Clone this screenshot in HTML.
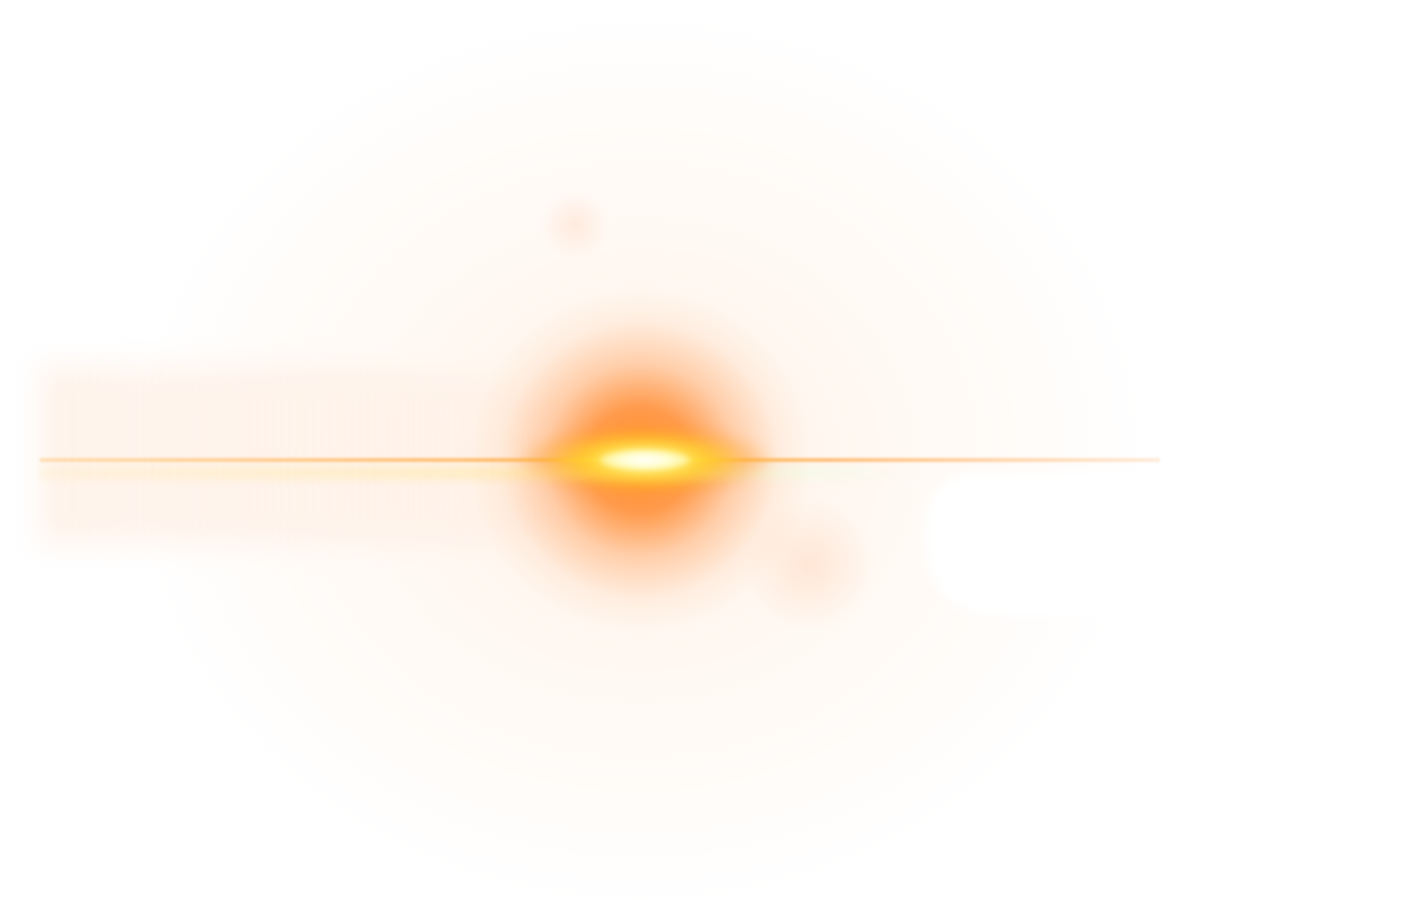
<!DOCTYPE html>
<html>
<head>
<meta charset="utf-8">
<style>
html,body{margin:0;padding:0;background:#fff;}
#scene{position:relative;width:1412px;height:900px;overflow:hidden;background:#fff;}
.layer{position:absolute;pointer-events:none;}
</style>
</head>
<body>
<div id="scene">
  <div class="layer"
       style="left:140px;top:20px;width:1000px;height:880px;border-radius:50%;
       background:radial-gradient(ellipse at 50% 50%, rgba(255,190,140,0.22) 0%, rgba(255,210,170,0.14) 35%, rgba(255,225,200,0.08) 60%, rgba(255,240,225,0) 72%);"></div>
  <div class="layer"
       style="left:40px;top:365px;width:620px;height:180px;
       background:linear-gradient(to right, rgba(255,220,195,0.35), rgba(255,215,190,0.18) 55%, rgba(255,215,190,0));
       border-radius:0 60% 40% 0;filter:blur(14px);"></div>
  <div class="layer"
       style="left:470px;top:290px;width:340px;height:340px;border-radius:50%;
       background:radial-gradient(circle at 50% 50%, rgba(255,140,40,1) 0%, rgba(255,140,50,0.85) 22%, rgba(255,160,90,0.45) 40%, rgba(255,190,140,0.15) 58%, rgba(255,210,180,0) 72%);"></div>
  <div class="layer"
       style="left:740px;top:500px;width:140px;height:130px;border-radius:50%;
       background:radial-gradient(circle, rgba(255,190,150,0.3), rgba(255,200,170,0) 70%);"></div>
  <div class="layer"
       style="left:540px;top:190px;width:70px;height:70px;border-radius:50%;
       background:radial-gradient(circle, rgba(255,200,170,0.3), rgba(255,210,180,0) 70%);"></div>
  <div class="layer"
       style="left:40px;top:458px;width:1120px;height:4px;
       background:linear-gradient(to right, rgba(255,200,120,0.5), rgba(255,170,70,0.7) 40%, rgba(255,200,80,1) 54%, rgba(255,170,80,0.7) 70%, rgba(255,190,130,0.3) 100%);
       filter:blur(1px);"></div>
  <div class="layer"
       style="left:40px;top:466px;width:900px;height:14px;
       background:linear-gradient(to right, rgba(255,235,190,0.3), rgba(255,230,150,0.45) 55%, rgba(230,255,220,0.3) 85%, rgba(255,255,255,0));
       filter:blur(4px);"></div>
  <div class="layer"
       style="left:520px;top:425px;width:250px;height:70px;border-radius:50%;
       background:radial-gradient(ellipse at 50% 50%, #fffbe0 0%, #fff270 18%, rgba(255,210,40,0.85) 35%, rgba(255,160,40,0.35) 58%, rgba(255,150,40,0) 75%);
       filter:blur(6px);"></div>
  <div class="layer"
       style="left:600px;top:450px;width:90px;height:20px;border-radius:50%;
       background:radial-gradient(ellipse, #ffffff 0%, rgba(255,255,220,0.9) 40%, rgba(255,250,160,0) 100%);
       filter:blur(3px);"></div>
  <div class="layer"
       style="left:925px;top:472px;width:520px;height:145px;background:#fff;border-radius:50px 0 0 70px;filter:blur(6px);"></div>
</div>
</body>
</html>
